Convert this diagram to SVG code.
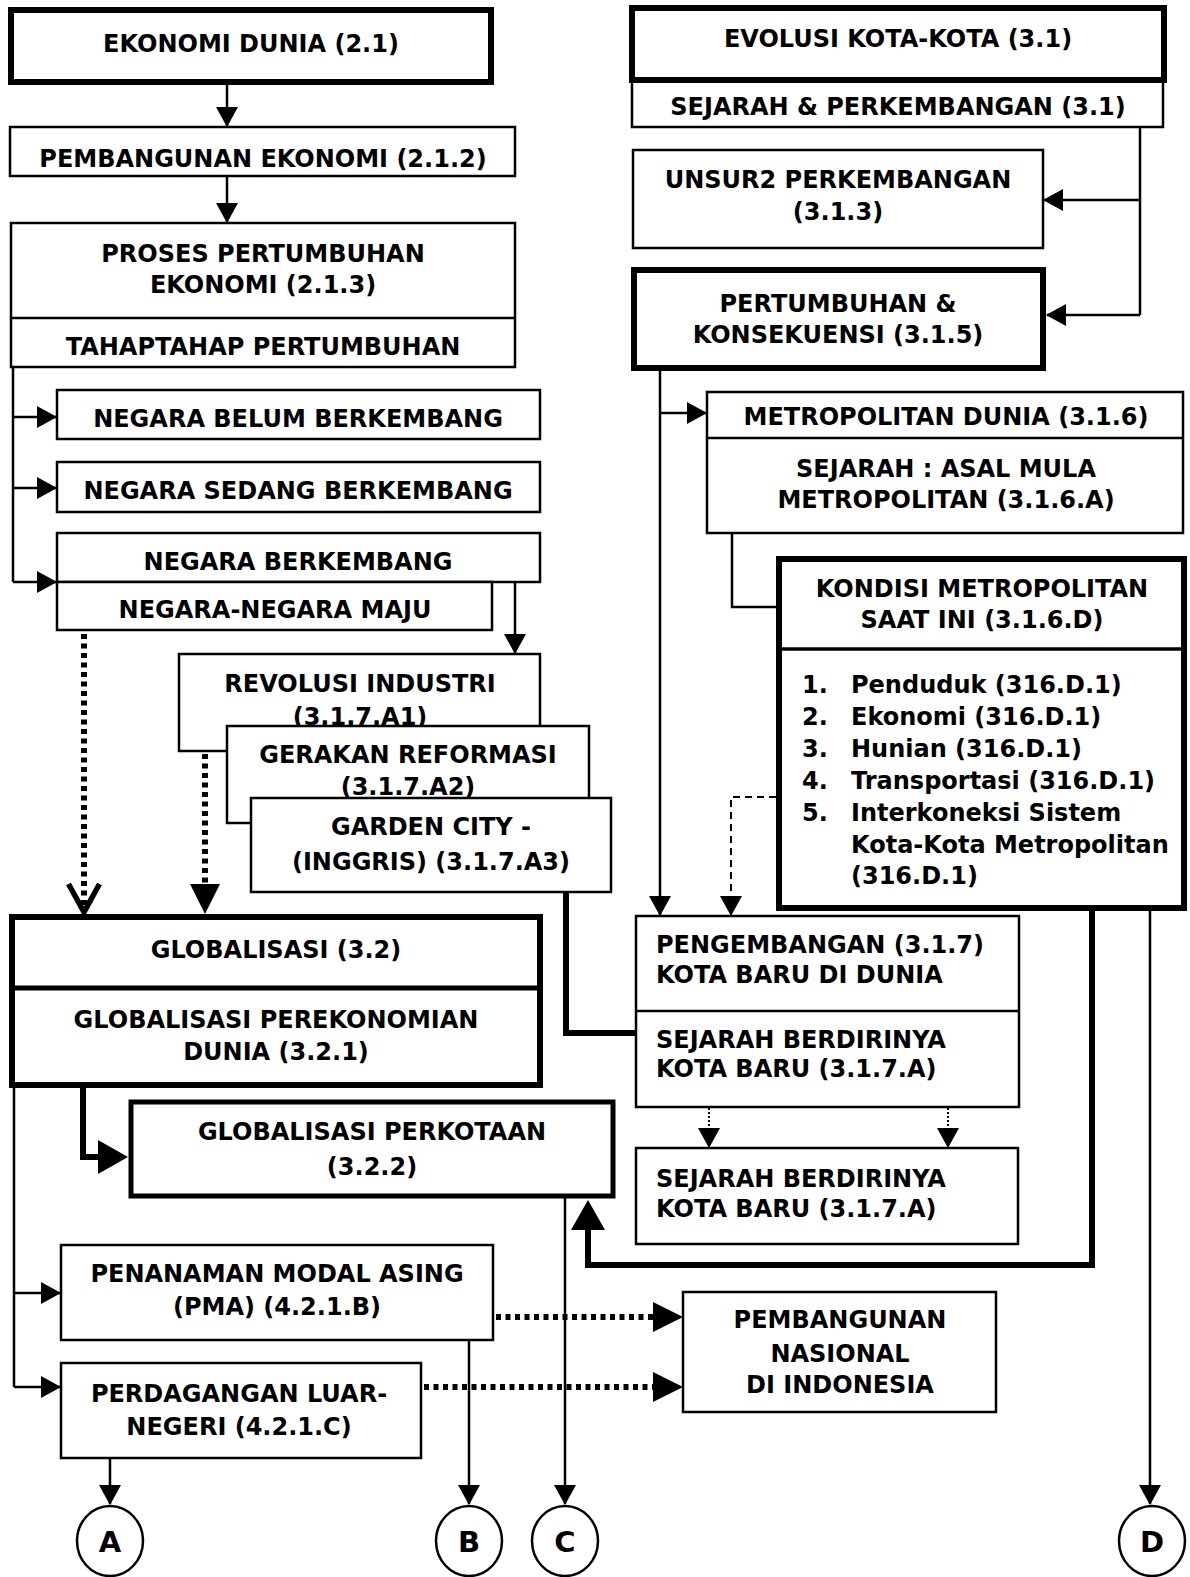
<svg xmlns="http://www.w3.org/2000/svg" width="1190" height="1577" viewBox="0 0 1190 1577">
  <style>
    .box { fill: #fff; stroke: #000; stroke-width: 2.5; }
    .bold-box { fill: #fff; stroke: #000; stroke-width: 6; }
    .mid-box { fill: #fff; stroke: #000; stroke-width: 5; }
    .div { stroke: #000; stroke-width: 2.5; fill: none; }
    .ln { stroke: #000; stroke-width: 2.5; fill: none; }
    .thick { stroke: #000; stroke-width: 6; fill: none; }
    .dot { stroke: #000; stroke-width: 6; fill: none; stroke-dasharray: 5 4.5; }
    .dash { stroke: #000; stroke-width: 2; fill: none; stroke-dasharray: 7 5; }
    .fine-dot { stroke: #000; stroke-width: 2; fill: none; stroke-dasharray: 2 2; }
    .circ { fill: #fff; stroke: #000; stroke-width: 2.5; }
    text { font-family: "DejaVu Sans", Verdana, sans-serif; font-weight: bold; font-size: 24px; fill: #000; text-anchor: middle; }
    .l { text-anchor: start; }
    .big { font-size: 29px; }
  </style>
  <defs>
    <marker id="arr" markerUnits="userSpaceOnUse" markerWidth="22" markerHeight="24" refX="19" refY="11" orient="auto" overflow="visible">
      <path d="M0,0 L20,11 L0,22 Z" fill="#000"/>
    </marker>
    <marker id="arrDot" markerUnits="userSpaceOnUse" markerWidth="32" markerHeight="32" refX="22" refY="15" orient="auto" overflow="visible">
      <path d="M0,0 L30,15 L0,30 Z" fill="#000"/>
    </marker>
    <marker id="arrBig" markerUnits="userSpaceOnUse" markerWidth="32" markerHeight="36" refX="22" refY="17" orient="auto" overflow="visible">
      <path d="M0,0 L30,17 L0,34 Z" fill="#000"/>
    </marker>
    <marker id="arrOpen" markerUnits="userSpaceOnUse" markerWidth="32" markerHeight="36" refX="28" refY="16.5" orient="auto" overflow="visible">
      <path d="M0,1 L28,16.5 L0,32" fill="none" stroke="#000" stroke-width="5.5" stroke-linejoin="miter"/>
    </marker>
  </defs>

  <!-- connectors -->
  <g id="connectors">
    <path class="ln" d="M227,85 V126" marker-end="url(#arr)"/>
    <path class="ln" d="M227,176 V222" marker-end="url(#arr)"/>
    <path class="ln" d="M13,367 V582"/>
    <path class="ln" d="M13,417 H56" marker-end="url(#arr)"/>
    <path class="ln" d="M13,488 H56" marker-end="url(#arr)"/>
    <path class="ln" d="M13,582 H56" marker-end="url(#arr)"/>
    <path class="ln" d="M515,582 V653" marker-end="url(#arr)"/>
    <path class="dot" d="M84,634 V912" marker-end="url(#arrOpen)"/>
    <path class="dot" d="M205,754 V906" marker-end="url(#arrDot)"/>
    <path class="ln" d="M660,371 V915" marker-end="url(#arr)"/>
    <path class="ln" d="M660,413 H706" marker-end="url(#arr)"/>
    <path class="ln" d="M1140,127 V315"/>
    <path class="ln" d="M1140,200 H1044" marker-end="url(#arr)"/>
    <path class="ln" d="M1140,315 H1047" marker-end="url(#arr)"/>
    <path class="ln" d="M732,533 V607 H776"/>
    <path class="dash" d="M776,797 H731 V915" marker-end="url(#arr)"/>
    <path class="thick" d="M566,892 V1033 H636"/>
    <path class="thick" d="M83,1088 V1157 H120" marker-end="url(#arrBig)"/>
    <path class="ln" d="M14,1088 V1387"/>
    <path class="ln" d="M14,1293 H60" marker-end="url(#arr)"/>
    <path class="ln" d="M14,1387 H60" marker-end="url(#arr)"/>
    <path class="dot" d="M496,1317 H675" marker-end="url(#arrDot)"/>
    <path class="dot" d="M424,1387 H675" marker-end="url(#arrDot)"/>
    <path class="thick" d="M1092,911 V1265 H588 V1208" marker-end="url(#arrBig)"/>
    <path class="ln" d="M1150,911 V1504" marker-end="url(#arr)"/>
    <path class="ln" d="M565,1198 V1504" marker-end="url(#arr)"/>
    <path class="ln" d="M469,1340 V1504" marker-end="url(#arr)"/>
    <path class="ln" d="M110,1458 V1504" marker-end="url(#arr)"/>
    <path class="fine-dot" d="M709,1108 V1147" marker-end="url(#arr)"/>
    <path class="fine-dot" d="M948,1108 V1147" marker-end="url(#arr)"/>
  </g>

  <!-- left column -->
  <g id="ekonomi-dunia">
    <rect class="bold-box" x="11" y="10" width="480" height="72"/>
    <text x="251" y="52">EKONOMI DUNIA (2.1)</text>
  </g>
  <g id="pembangunan-ekonomi">
    <rect class="box" x="10" y="127" width="505" height="49"/>
    <text x="263" y="167">PEMBANGUNAN EKONOMI (2.1.2)</text>
  </g>
  <g id="proses-pertumbuhan">
    <rect class="box" x="11" y="223" width="504" height="144"/>
    <line class="div" x1="11" y1="318" x2="515" y2="318"/>
    <text x="263" y="262">PROSES PERTUMBUHAN</text>
    <text x="263" y="293">EKONOMI (2.1.3)</text>
    <text x="263" y="355">TAHAPTAHAP PERTUMBUHAN</text>
  </g>
  <g id="negara-belum">
    <rect class="box" x="57" y="390" width="483" height="49"/>
    <text x="298" y="427">NEGARA BELUM BERKEMBANG</text>
  </g>
  <g id="negara-sedang">
    <rect class="box" x="57" y="462" width="483" height="50"/>
    <text x="298" y="499">NEGARA SEDANG BERKEMBANG</text>
  </g>
  <g id="negara-berkembang">
    <rect class="box" x="57" y="533" width="483" height="49"/>
    <text x="298" y="570">NEGARA BERKEMBANG</text>
  </g>
  <g id="negara-maju">
    <rect class="box" x="57" y="582" width="435" height="48"/>
    <text x="275" y="618">NEGARA-NEGARA MAJU</text>
  </g>
  <g id="revolusi-industri">
    <rect class="box" x="179" y="654" width="361" height="97"/>
    <text x="360" y="692">REVOLUSI INDUSTRI</text>
    <text x="360" y="725">(3.1.7.A1)</text>
  </g>
  <g id="gerakan-reformasi">
    <rect class="box" x="227" y="726" width="362" height="97"/>
    <text x="408" y="763">GERAKAN REFORMASI</text>
    <text x="408" y="795">(3.1.7.A2)</text>
  </g>
  <g id="garden-city">
    <rect class="box" x="251" y="798" width="360" height="94"/>
    <text x="431" y="835">GARDEN CITY -</text>
    <text x="431" y="870">(INGGRIS) (3.1.7.A3)</text>
  </g>
  <g id="globalisasi">
    <rect class="bold-box" x="12" y="917" width="528" height="168"/>
    <line class="thick" x1="12" y1="988" x2="540" y2="988" style="stroke-width:5"/>
    <text x="276" y="958">GLOBALISASI (3.2)</text>
    <text x="276" y="1028">GLOBALISASI PEREKONOMIAN</text>
    <text x="276" y="1060">DUNIA (3.2.1)</text>
  </g>
  <g id="globalisasi-perkotaan">
    <rect class="mid-box" x="131" y="1102" width="482" height="94"/>
    <text x="372" y="1140">GLOBALISASI PERKOTAAN</text>
    <text x="372" y="1175">(3.2.2)</text>
  </g>
  <g id="pma">
    <rect class="box" x="61" y="1245" width="432" height="95"/>
    <text x="277" y="1282">PENANAMAN MODAL ASING</text>
    <text x="277" y="1315">(PMA) (4.2.1.B)</text>
  </g>
  <g id="perdagangan">
    <rect class="box" x="61" y="1363" width="360" height="95"/>
    <text x="239" y="1402">PERDAGANGAN LUAR-</text>
    <text x="239" y="1435">NEGERI (4.2.1.C)</text>
  </g>
  <g id="pembangunan-nasional">
    <rect class="box" x="683" y="1292" width="313" height="120"/>
    <text x="840" y="1328">PEMBANGUNAN</text>
    <text x="840" y="1362">NASIONAL</text>
    <text x="840" y="1393">DI INDONESIA</text>
  </g>

  <!-- right column -->
  <g id="evolusi-kota">
    <rect class="box" x="632" y="81" width="531" height="46"/>
    <rect class="bold-box" x="632" y="8" width="532" height="72"/>
    <text x="898" y="47">EVOLUSI KOTA-KOTA (3.1)</text>
    <text x="898" y="115">SEJARAH &amp; PERKEMBANGAN (3.1)</text>
  </g>
  <g id="unsur-perkembangan">
    <rect class="box" x="633" y="150" width="410" height="98"/>
    <text x="838" y="188">UNSUR2 PERKEMBANGAN</text>
    <text x="838" y="220">(3.1.3)</text>
  </g>
  <g id="pertumbuhan-konsekuensi">
    <rect class="bold-box" x="634" y="270" width="409" height="98"/>
    <text x="838" y="312">PERTUMBUHAN &amp;</text>
    <text x="838" y="343">KONSEKUENSI (3.1.5)</text>
  </g>
  <g id="metropolitan-dunia">
    <rect class="box" x="707" y="392" width="476" height="141"/>
    <line class="div" x1="707" y1="438" x2="1183" y2="438"/>
    <text x="946" y="425">METROPOLITAN DUNIA (3.1.6)</text>
    <text x="946" y="477">SEJARAH : ASAL MULA</text>
    <text x="946" y="508">METROPOLITAN (3.1.6.A)</text>
  </g>
  <g id="kondisi-metropolitan">
    <rect class="bold-box" x="779" y="559" width="405" height="349"/>
    <line class="div" x1="779" y1="649" x2="1184" y2="649" style="stroke-width:3.5"/>
    <text x="982" y="597">KONDISI METROPOLITAN</text>
    <text x="982" y="628">SAAT INI (3.1.6.D)</text>
    <text class="l" x="802" y="693">1.</text>
    <text class="l" x="851" y="693">Penduduk (316.D.1)</text>
    <text class="l" x="802" y="725">2.</text>
    <text class="l" x="851" y="725">Ekonomi (316.D.1)</text>
    <text class="l" x="802" y="757">3.</text>
    <text class="l" x="851" y="757">Hunian (316.D.1)</text>
    <text class="l" x="802" y="789">4.</text>
    <text class="l" x="851" y="789">Transportasi (316.D.1)</text>
    <text class="l" x="802" y="821">5.</text>
    <text class="l" x="851" y="821">Interkoneksi Sistem</text>
    <text class="l" x="851" y="853">Kota-Kota Metropolitan</text>
    <text class="l" x="851" y="884">(316.D.1)</text>
  </g>
  <g id="pengembangan-kota-baru">
    <rect class="box" x="636" y="916" width="383" height="191"/>
    <line class="div" x1="636" y1="1011" x2="1019" y2="1011"/>
    <text class="l" x="656" y="953">PENGEMBANGAN (3.1.7)</text>
    <text class="l" x="656" y="983">KOTA BARU DI DUNIA</text>
    <text class="l" x="656" y="1048">SEJARAH BERDIRINYA</text>
    <text class="l" x="656" y="1077">KOTA BARU (3.1.7.A)</text>
  </g>
  <g id="sejarah-kota-baru">
    <rect class="box" x="636" y="1148" width="382" height="96"/>
    <text class="l" x="656" y="1187">SEJARAH BERDIRINYA</text>
    <text class="l" x="656" y="1217">KOTA BARU (3.1.7.A)</text>
  </g>

  <!-- off-page connectors -->
  <g id="conn-a">
    <ellipse class="circ" cx="110" cy="1541" rx="33" ry="35"/>
    <text class="big" x="110" y="1552">A</text>
  </g>
  <g id="conn-b">
    <ellipse class="circ" cx="469" cy="1541" rx="33" ry="35"/>
    <text class="big" x="469" y="1552">B</text>
  </g>
  <g id="conn-c">
    <ellipse class="circ" cx="565" cy="1541" rx="33" ry="35"/>
    <text class="big" x="565" y="1552">C</text>
  </g>
  <g id="conn-d">
    <ellipse class="circ" cx="1152" cy="1541" rx="33" ry="35"/>
    <text class="big" x="1152" y="1552">D</text>
  </g>
</svg>
